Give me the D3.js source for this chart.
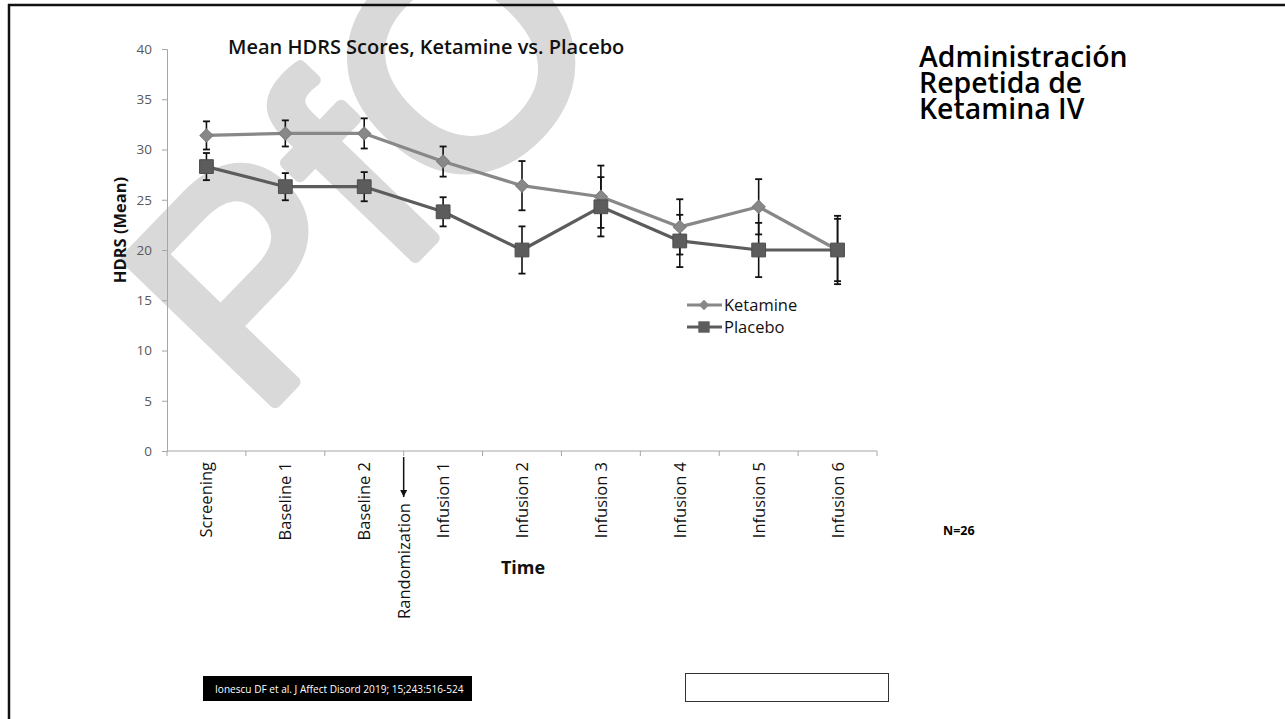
<!DOCTYPE html>
<html>
<head>
<meta charset="utf-8">
<script src="https://cdn.jsdelivr.net/npm/d3@7"></script>
<style>
  html, body { margin: 0; padding: 0; background: #fff; }
  svg { display: block; }
</style>
</head>
<body>
<svg id="chart" width="1285" height="719"></svg>
<script>
// Time points and mean HDRS scores (± error) for each arm
const categories = ["Screening", "Baseline 1", "Baseline 2", "Infusion 1", "Infusion 2",
                    "Infusion 3", "Infusion 4", "Infusion 5", "Infusion 6"];
const ketamineMean = [31.4, 31.6, 31.6, 28.8, 26.4, 25.3, 22.3, 24.3, 20.0];
const ketamineErr  = [1.4, 1.3, 1.5, 1.5, 2.45, 3.1, 2.75, 2.75, 3.4];
const placeboMean  = [28.3, 26.3, 26.3, 23.8, 20.0, 24.3, 20.9, 20.0, 20.0];
const placeboErr   = [1.35, 1.35, 1.45, 1.45, 2.35, 2.95, 2.6, 2.7, 3.1];
const yTicks = [0, 5, 10, 15, 20, 25, 30, 35, 40];
const seriesNames = ["Ketamine", "Placebo"];

const svg = d3.select("#chart");
const W = 1285, H = 719;

svg.append("rect").attr("width", W).attr("height", H).attr("fill", "#fff");

// Faint background mark
svg.append("text")
  .attr("transform", "translate(258,420) rotate(-46)")
  .attr("font-family", "Liberation Sans, Arial, sans-serif")
  .attr("font-size", 300)
  .attr("fill", "#d9d9d9")
  .attr("stroke", "#d9d9d9")
  .attr("stroke-width", 12)
  .attr("stroke-linejoin", "round")
  .text("PfO");

// Slide frame (top and left edges)
svg.append("line").attr("x1", 8).attr("x2", W).attr("y1", 5).attr("y2", 5)
  .attr("stroke", "#111").attr("stroke-width", 2.5);
svg.append("line").attr("x1", 9).attr("x2", 9).attr("y1", 4).attr("y2", H)
  .attr("stroke", "#111").attr("stroke-width", 2.5);

// Scales
const x = d3.scaleBand().domain(categories).range([167, 877]).padding(0);
const cx = d => x(d) + x.bandwidth() / 2;
const y = d3.scaleLinear().domain([0, 40]).range([451, 49]);

const axisColor = "#a6a6a6";

// Y axis
const yAxis = svg.append("g")
  .attr("transform", "translate(167,0)")
  .call(d3.axisLeft(y).tickValues(yTicks).tickSize(5).tickPadding(10));
yAxis.select(".domain").attr("stroke", axisColor);
yAxis.selectAll(".tick line").attr("stroke", axisColor);
yAxis.selectAll(".tick text")
  .attr("font-family", "Open Sans, sans-serif")
  .attr("font-size", 13.5)
  .attr("fill", "#595959");

// X axis: line with ticks on category boundaries
svg.append("line").attr("x1", 167).attr("x2", 877).attr("y1", y(0)).attr("y2", y(0))
  .attr("stroke", axisColor);
const boundaries = categories.map(c => x(c)).concat([x(categories[categories.length - 1]) + x.bandwidth()]);
svg.append("g").selectAll("line").data(boundaries).join("line")
  .attr("x1", d => d).attr("x2", d => d)
  .attr("y1", y(0)).attr("y2", y(0) + 5)
  .attr("stroke", axisColor);

// Rotated category labels
svg.append("g").selectAll("text").data(categories).join("text")
  .attr("transform", d => `translate(${cx(d) + 6},462) rotate(-90)`)
  .attr("text-anchor", "end")
  .attr("font-family", "Open Sans, sans-serif")
  .attr("font-size", 16.5)
  .attr("fill", "#111")
  .text(d => d);

// Randomization marker between Baseline 2 and Infusion 1
const randX = x(categories[3]);
svg.append("defs").append("marker")
  .attr("id", "arrow").attr("viewBox", "0 0 10 10")
  .attr("refX", 10).attr("refY", 5)
  .attr("markerWidth", 7).attr("markerHeight", 7)
  .attr("markerUnits", "userSpaceOnUse")
  .attr("orient", "auto")
  .append("path").attr("d", "M0,0 L10,5 L0,10 Z").attr("fill", "#111");
svg.append("line")
  .attr("x1", randX).attr("x2", randX).attr("y1", 457).attr("y2", 497)
  .attr("stroke", "#111").attr("stroke-width", 1.5)
  .attr("marker-end", "url(#arrow)");
svg.append("text")
  .attr("transform", `translate(${randX + 6},503) rotate(-90)`)
  .attr("text-anchor", "end")
  .attr("font-family", "Open Sans, sans-serif")
  .attr("font-size", 16.5)
  .attr("fill", "#111")
  .text("Randomization");

// Axis titles
svg.append("text")
  .attr("transform", "translate(126,230) rotate(-90)")
  .attr("text-anchor", "middle")
  .attr("font-family", "Open Sans, sans-serif")
  .attr("font-weight", "bold")
  .attr("font-size", 16.5)
  .attr("fill", "#111")
  .text("HDRS (Mean)");
svg.append("text")
  .attr("x", 523).attr("y", 574)
  .attr("text-anchor", "middle")
  .attr("font-family", "Open Sans, sans-serif")
  .attr("font-weight", "bold")
  .attr("font-size", 18)
  .attr("fill", "#111")
  .text("Time");

// Chart title
svg.append("text")
  .attr("x", 228).attr("y", 54)
  .attr("font-family", "Open Sans, sans-serif")
  .attr("font-weight", 600)
  .attr("font-size", 20)
  .attr("fill", "#111")
  .text("Mean HDRS Scores, Ketamine vs. Placebo");

// Series definitions
const series = [
  { name: seriesNames[0], mean: ketamineMean, err: ketamineErr, color: "#888888", shape: "diamond" },
  { name: seriesNames[1], mean: placeboMean, err: placeboErr, color: "#5c5c5c", shape: "square" }
];

const line = d3.line().x((d, i) => cx(categories[i])).y(d => y(d));

series.forEach(s => {
  svg.append("path").datum(s.mean)
    .attr("d", line)
    .attr("fill", "none")
    .attr("stroke", s.color)
    .attr("stroke-width", 3.2)
    .attr("stroke-linejoin", "round");
});

// Error bars
series.forEach(s => {
  const g = svg.append("g");
  const data = s.mean.map((m, i) => ({ c: categories[i], lo: m - s.err[i], hi: m + s.err[i] }));
  g.selectAll("line.v").data(data).join("line")
    .attr("x1", d => cx(d.c)).attr("x2", d => cx(d.c))
    .attr("y1", d => y(d.lo)).attr("y2", d => y(d.hi))
    .attr("stroke", "#111").attr("stroke-width", 1.6);
  ["lo", "hi"].forEach(k => {
    g.selectAll("line." + k).data(data).join("line")
      .attr("x1", d => cx(d.c) - 3.5).attr("x2", d => cx(d.c) + 3.5)
      .attr("y1", d => y(d[k])).attr("y2", d => y(d[k]))
      .attr("stroke", "#111").attr("stroke-width", 1.8);
  });
});

// Markers
const markerPath = (shape, big) => d3.symbol().type(d3.symbolSquare)
  .size(shape === "diamond" ? (big ? 85 : 55) : (big ? 190 : 130))();
series.forEach(s => {
  svg.append("g").selectAll("path").data(s.mean).join("path")
    .attr("transform", (d, i) => `translate(${cx(categories[i])},${y(d)})${s.shape === "diamond" ? " rotate(45)" : ""}`)
    .attr("d", markerPath(s.shape, true))
    .attr("fill", s.color)
    .attr("stroke", s.shape === "diamond" ? "#7d7d7d" : "#4d4d4d")
    .attr("stroke-width", 1);
});

// Legend
const legend = svg.append("g");
series.forEach((s, i) => {
  const ly = 305 + i * 22;
  legend.append("line").attr("x1", 687).attr("x2", 722).attr("y1", ly).attr("y2", ly)
    .attr("stroke", s.color).attr("stroke-width", 3.2);
  legend.append("path")
    .attr("transform", `translate(704,${ly})${s.shape === "diamond" ? " rotate(45)" : ""}`)
    .attr("d", markerPath(s.shape, false))
    .attr("fill", s.color);
  legend.append("text")
    .attr("x", 724).attr("y", ly + 6)
    .attr("font-family", "Open Sans, sans-serif")
    .attr("font-size", 16.5)
    .attr("fill", "#111")
    .text(s.name);
});

// Slide heading on the right
const heading = ["Administración", "Repetida de", "Ketamina IV"];
svg.append("g").selectAll("text").data(heading).join("text")
  .attr("x", 919).attr("y", (d, i) => 67 + i * 26)
  .attr("font-family", "Open Sans, sans-serif")
  .attr("font-weight", 600)
  .attr("font-size", 28.4)
  .attr("fill", "#000")
  .text(d => d);

svg.append("text")
  .attr("x", 943).attr("y", 535)
  .attr("font-family", "Open Sans, sans-serif")
  .attr("font-weight", "bold")
  .attr("font-size", 12.5)
  .attr("fill", "#000")
  .text("N=26");

// Reference box, with its text shrunk to fit inside
svg.append("rect").attr("x", 203).attr("y", 676).attr("width", 269).attr("height", 25).attr("fill", "#000");
const cite = svg.append("text")
  .attr("x", 215).attr("y", 693)
  .attr("font-family", "Open Sans, sans-serif")
  .attr("font-size", 11)
  .attr("fill", "#fff")
  .text("Ionescu DF et al. J Affect Disord 2019; 15;243:516-524");
const citeLen = cite.node().getComputedTextLength();
if (citeLen > 249) cite.attr("font-size", 11 * 249 / citeLen);

// Empty caption box
svg.append("rect").attr("x", 685.5).attr("y", 673.5).attr("width", 203).attr("height", 28)
  .attr("fill", "#fff").attr("stroke", "#333").attr("stroke-width", 1);
</script>
</body>
</html>
